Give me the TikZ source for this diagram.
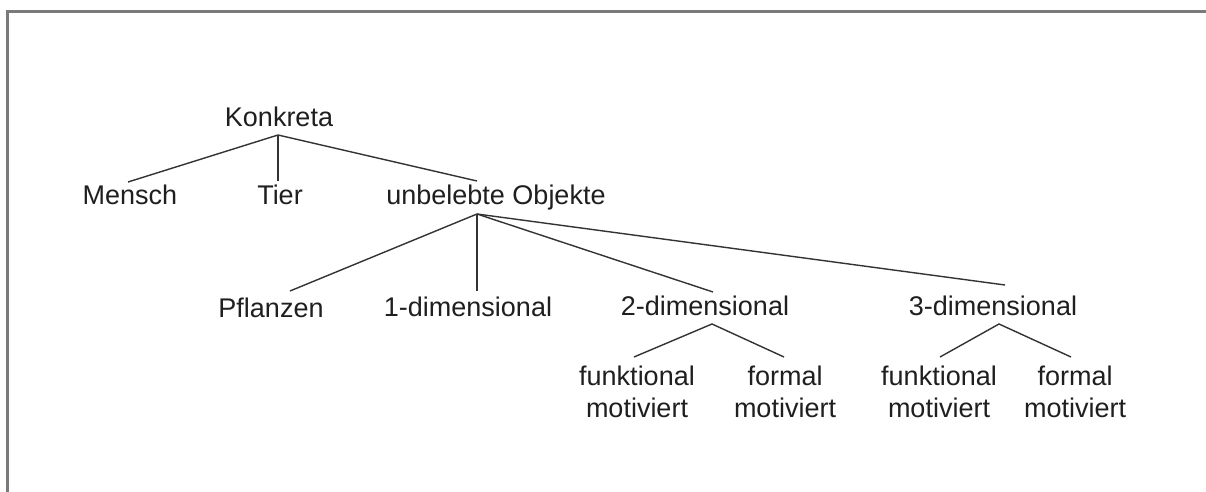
\documentclass[tikz,border=0pt]{standalone}
\usepackage{fontspec}
\setmainfont{Liberation Sans}
\begin{document}
\begin{tikzpicture}[x=1pt,y=-1pt,
  lbl/.style={anchor=base,inner sep=0pt,text=black!88,font=\fontsize{27}{32}\selectfont},
  leaf/.style={lbl,align=center},
  edge/.style={draw=black!80,line width=1.4pt},
  frame/.style={draw=black!52,line width=3pt}]
\useasboundingbox (0,0) rectangle (1206,492);
\fill[white] (0,0) rectangle (1206,492);
% outer frame: only top and left edges are visible
\draw[frame] (7.5,492) -- (7.5,11.5) -- (1206,11.5);

% labels
\node[lbl] (konkreta) at (279,126) {Konkreta};
\node[lbl] (mensch)   at (130,204) {Mensch};
\node[lbl] (tier)     at (280,204) {Tier};
\node[lbl] (unbelebt) at (496,204) {unbelebte Objekte};
\node[lbl] (pflanzen) at (271,317) {Pflanzen};
\node[lbl] (dimA)     at (468,316) {1-dimensional};
\node[lbl] (dimB)     at (705,315) {2-dimensional};
\node[lbl] (dimC)     at (993,315) {3-dimensional};
% two-line leaves: base anchor sits on the second line
\node[leaf] (funkB)   at (637,417) {funktional\\motiviert};
\node[leaf] (formB)   at (785,417) {formal\\motiviert};
\node[leaf] (funkC)   at (939,417) {funktional\\motiviert};
\node[leaf] (formC)   at (1075,417) {formal\\motiviert};

% connector end points
\coordinate (konkreta-b) at (278,135);
\coordinate (mensch-t)   at (128,182);
\coordinate (tier-t)     at (278,181);
\coordinate (unbelebt-t) at (477,181);
\coordinate (unbelebt-b) at (477,214);
\coordinate (pflanzen-t) at (290,291);
\coordinate (dimA-t)     at (477,291);
\coordinate (dimB-t)     at (713,292);
\coordinate (dimC-t)     at (1005,285);
\coordinate (dimB-b)     at (712,324);
\coordinate (dimC-b)     at (999,324);
\coordinate (funkB-t)    at (634,357);
\coordinate (formB-t)    at (784,357);
\coordinate (funkC-t)    at (940,357);
\coordinate (formC-t)    at (1071,357);

% tree edges
\draw[edge] (mensch-t) -- (konkreta-b) -- (unbelebt-t);
\draw[edge] (konkreta-b) -- (tier-t);
\draw[edge] (unbelebt-b) -- (pflanzen-t);
\draw[edge] (unbelebt-b) -- (dimA-t);
\draw[edge] (unbelebt-b) -- (dimB-t);
\draw[edge] (unbelebt-b) -- (dimC-t);
\draw[edge] (funkB-t) -- (dimB-b) -- (formB-t);
\draw[edge] (funkC-t) -- (dimC-b) -- (formC-t);
\end{tikzpicture}
\end{document}
